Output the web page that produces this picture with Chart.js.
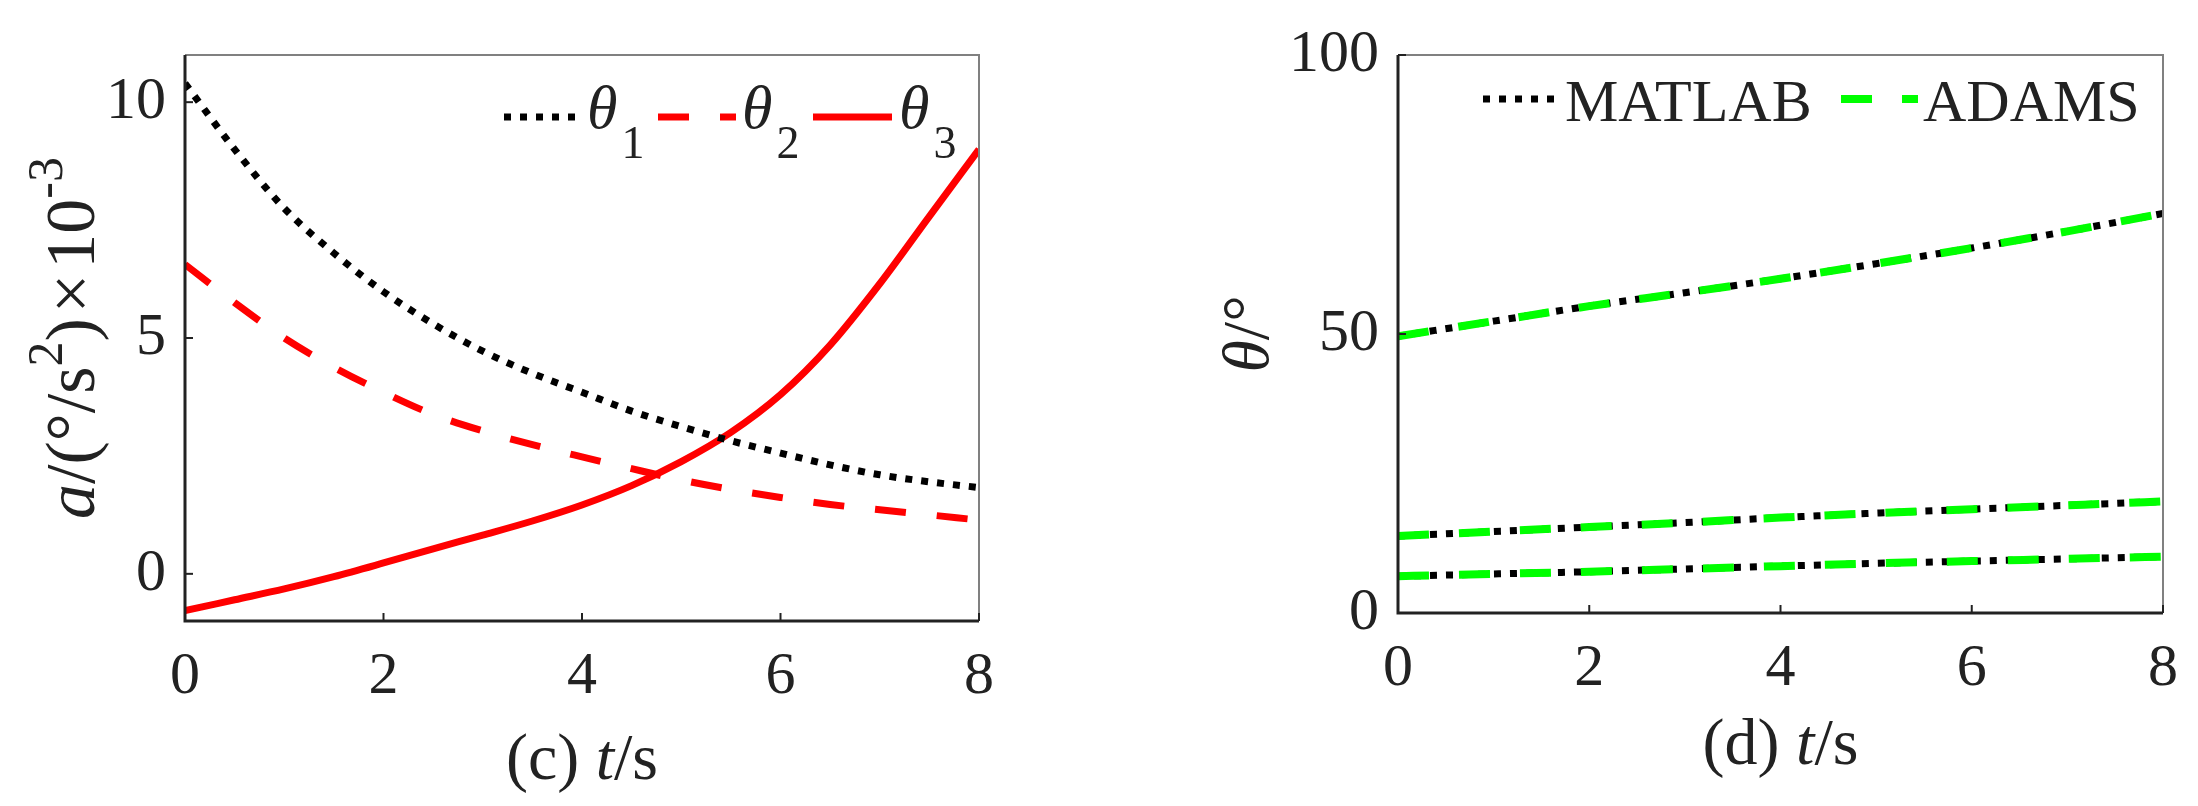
<!DOCTYPE html>
<html>
<head>
<meta charset="utf-8">
<script src="https://cdn.jsdelivr.net/npm/chart.js@4.4.1/dist/chart.umd.min.js"></script>
<style>
    html, body { margin: 0; padding: 0; background: #ffffff; }
    #wrap { position: relative; width: 2198px; height: 806px; }
    canvas { position: absolute; top: 0; }
    #accChart { left: 0; }
    #angleChart { left: 1100px; }
</style>
</head>
<body>
<div id="wrap">
    <canvas id="accChart" width="1100" height="806"></canvas>
    <canvas id="angleChart" width="1098" height="806"></canvas>
</div>
<script>
// ---- (c) angular acceleration, x10^-3 deg/s^2 ----
var timeC = [0, 0.5, 1, 1.5, 2, 2.5, 3, 3.5, 4, 4.5, 5, 5.5, 6, 6.5, 7, 7.5, 8];
var theta1Acc = [10.4, 9.0, 7.75, 6.8, 5.98, 5.3, 4.72, 4.25, 3.85, 3.45, 3.12, 2.82, 2.56, 2.31, 2.1, 1.95, 1.83];
var theta2Acc = [6.56, 5.75, 5.0, 4.38, 3.85, 3.38, 3.03, 2.74, 2.48, 2.23, 1.99, 1.79, 1.62, 1.47, 1.36, 1.25, 1.14];
var theta3Acc = [-0.78, -0.55, -0.32, -0.06, 0.23, 0.53, 0.82, 1.12, 1.46, 1.87, 2.38, 3.0, 3.8, 4.85, 6.15, 7.58, 9.0];
var xTicksC = [0, 2, 4, 6, 8];
var yTicksC = [0, 5, 10];

// ---- (d) joint angles, deg ----
var timeD = [0, 1, 2, 3, 4, 5, 6, 7, 8];
var matlabUpper = [49.6, 52.3, 55.0, 57.4, 59.9, 62.6, 65.4, 68.4, 71.6];
var matlabMiddle = [13.8, 14.6, 15.4, 16.2, 17.1, 17.9, 18.6, 19.3, 20.0];
var matlabLower = [6.6, 7.0, 7.4, 7.9, 8.4, 8.9, 9.3, 9.7, 10.1];
var adamsUpper = [49.6, 52.3, 55.0, 57.4, 59.9, 62.6, 65.4, 68.4, 71.6];
var adamsMiddle = [13.8, 14.6, 15.4, 16.2, 17.1, 17.9, 18.6, 19.3, 20.0];
var adamsLower = [6.6, 7.0, 7.4, 7.9, 8.4, 8.9, 9.3, 9.7, 10.1];
var xTicksD = [0, 2, 4, 6, 8];
var yTicksD = [0, 50, 100];

var SERIF = "'Liberation Serif', 'Times New Roman', serif";
var INK = "#222222";

function toPoints(xs, ys) {
    return xs.map(function (x, i) { return {x: x, y: ys[i]}; });
}

function runFont(run, size) {
    var px = Math.round(size * (run.scale || 1));
    return (run.italic ? "italic " : "") + px + "px " + SERIF;
}

// Draws a row of text runs (italic / sub / superscript) along the baseline y.
function drawRuns(ctx, runs, x, y, size, align) {
    var widths = runs.map(function (r) {
        ctx.font = runFont(r, size);
        return ctx.measureText(r.text).width + (r.dx || 0);
    });
    var total = widths.reduce(function (a, b) { return a + b; }, 0);
    var cx = align === "center" ? x - total / 2 : x;
    ctx.textBaseline = "alphabetic";
    ctx.textAlign = "left";
    runs.forEach(function (r, i) {
        ctx.font = runFont(r, size);
        ctx.fillText(r.text, cx + (r.dx || 0), y + (r.shift || 0));
        cx += widths[i];
    });
}

function strokeSample(ctx, x0, x1, y, color, width, dash) {
    ctx.save();
    ctx.strokeStyle = color;
    ctx.lineWidth = width;
    ctx.setLineDash(dash);
    ctx.beginPath();
    ctx.moveTo(x0, y);
    ctx.lineTo(x1, y);
    ctx.stroke();
    ctx.restore();
}

// Box round the plot plus short inward tick marks, MATLAB style.
var framePlugin = {
    id: "frame",
    afterDatasetsDraw: function (chart) {
        var ctx = chart.ctx;
        var a = chart.chartArea;
        var xs = chart.scales.x;
        var ys = chart.scales.y;
        ctx.save();
        ctx.strokeStyle = "#808080";
        ctx.lineWidth = 2;
        ctx.beginPath();
        ctx.moveTo(a.left, a.top);
        ctx.lineTo(a.right, a.top);
        ctx.lineTo(a.right, a.bottom);
        ctx.stroke();

        ctx.strokeStyle = INK;
        ctx.lineWidth = 2;
        xs.ticks.forEach(function (t) {
            var px = xs.getPixelForValue(t.value);
            ctx.beginPath();
            ctx.moveTo(px, a.bottom);
            ctx.lineTo(px, a.bottom - 8);
            ctx.stroke();
        });
        ys.ticks.forEach(function (t) {
            var py = ys.getPixelForValue(t.value);
            ctx.beginPath();
            ctx.moveTo(a.left, py);
            ctx.lineTo(a.left + 8, py);
            ctx.stroke();
        });

        ctx.lineWidth = 3;
        ctx.beginPath();
        ctx.moveTo(a.left, a.top);
        ctx.lineTo(a.left, a.bottom);
        ctx.lineTo(a.right, a.bottom);
        ctx.stroke();
        ctx.restore();
    }
};

// Axis titles and legend with italic symbols and subscripts.
// The spec is kept in a closure so Chart.js does not proxy it.
function makeLabelsPlugin(spec) {
    return {
        id: "richLabels",
        afterDraw: function (chart) {
            var ctx = chart.ctx;
            var a = chart.chartArea;
            ctx.save();
            ctx.fillStyle = INK;
            drawRuns(ctx, spec.xTitle, (a.left + a.right) / 2, spec.xTitleY, 66, "center");

            ctx.save();
            ctx.translate(spec.yTitleX, (a.top + a.bottom) / 2);
            ctx.rotate(-Math.PI / 2);
            drawRuns(ctx, spec.yTitle, 0, 0, spec.yTitleSize, "center");
            ctx.restore();

            spec.legend.forEach(function (item) {
                strokeSample(ctx, item.x0, item.x1, spec.legendY, item.color, item.width, item.dash);
                ctx.fillStyle = INK;
                drawRuns(ctx, item.label, item.textX, spec.legendBaseline, spec.legendSize, "left");
            });
            ctx.restore();
        }
    };
}

function tickOptions(pad) {
    return {
        color: INK,
        padding: pad,
        maxRotation: 0,
        font: {family: SERIF, size: 60}
    };
}

function buildScales(xTicks, yTicks, yMin, yMax, yWidth, xHeight) {
    return {
        x: {
            type: "linear",
            min: 0,
            max: 8,
            grid: {display: false, drawTicks: false},
            border: {display: false},
            ticks: tickOptions(20),
            afterBuildTicks: function (s) {
                s.ticks = xTicks.map(function (v) { return {value: v}; });
            },
            afterFit: function (s) { s.height = xHeight; }
        },
        y: {
            type: "linear",
            min: yMin,
            max: yMax,
            grid: {display: false, drawTicks: false},
            border: {display: false},
            ticks: tickOptions(19),
            afterBuildTicks: function (s) {
                s.ticks = yTicks.map(function (v) { return {value: v}; });
            },
            afterFit: function (s) { s.width = yWidth; }
        }
    };
}

function theta(n) {
    return [{text: "\u03b8", italic: true}, {text: String(n), scale: 0.74, shift: 30, dx: 4}];
}

function curve(label, xs, ys, color, width, dash) {
    return {
        label: label,
        data: toPoints(xs, ys),
        borderColor: color,
        borderWidth: width,
        borderDash: dash,
        pointRadius: 0,
        cubicInterpolationMode: "monotone"
    };
}

// ---- chart (c) ----
new Chart(document.getElementById("accChart").getContext("2d"), {
    type: "line",
    data: {
        datasets: [
            curve("theta1", timeC, theta1Acc, "#000000", 7, [7, 9]),
            curve("theta2", timeC, theta2Acc, "#ff0000", 7, [31, 31]),
            curve("theta3", timeC, theta3Acc, "#ff0000", 7, [])
        ]
    },
    options: {
        responsive: false,
        animation: false,
        layout: {padding: {top: 43, right: 121, left: 0, bottom: 0}},
        scales: buildScales(xTicksC, yTicksC, -1, 11, 185, 185),
        plugins: {legend: {display: false}, tooltip: {enabled: false}}
    },
    plugins: [framePlugin, makeLabelsPlugin({
        xTitle: [{text: "(c) "}, {text: "t", italic: true}, {text: "/s"}],
        xTitleY: 779,
        yTitleX: 94,
        yTitleSize: 70,
        yTitle: [
            {text: "a", italic: true},
            {text: "/(\u00b0/s"},
            {text: "2", scale: 0.72, shift: -32},
            {text: ")"},
            {text: "\u00d7", dx: 5},
            {text: "10", dx: 5},
            {text: "-3", scale: 0.72, shift: -32}
        ],
        legendY: 117,
        legendBaseline: 128,
        legendSize: 62,
        legend: [
            {x0: 504, x1: 578, color: "#000000", width: 7, dash: [7, 9], textX: 587, label: theta(1)},
            {x0: 658, x1: 736, color: "#ff0000", width: 7, dash: [31, 31], textX: 742, label: theta(2)},
            {x0: 813, x1: 892, color: "#ff0000", width: 7, dash: [], textX: 899, label: theta(3)}
        ]
    })]
});

// ---- chart (d) ----
function angleSet(values, source) {
    var matlab = source === "MATLAB";
    var ds = curve(source, timeD, values,
        matlab ? "#000000" : "#00ff00",
        matlab ? 7 : 8,
        matlab ? [7, 9] : [31, 30]);
    ds.order = matlab ? 1 : 0;
    return ds;
}

new Chart(document.getElementById("angleChart").getContext("2d"), {
    type: "line",
    data: {
        datasets: [
            angleSet(matlabUpper, "MATLAB"),
            angleSet(matlabMiddle, "MATLAB"),
            angleSet(matlabLower, "MATLAB"),
            angleSet(adamsUpper, "ADAMS"),
            angleSet(adamsMiddle, "ADAMS"),
            angleSet(adamsLower, "ADAMS")
        ]
    },
    options: {
        responsive: false,
        animation: false,
        layout: {padding: {top: 39, right: 25, left: 0, bottom: 0}},
        scales: buildScales(xTicksD, yTicksD, 0, 100, 298, 193),
        plugins: {legend: {display: false}, tooltip: {enabled: false}}
    },
    plugins: [framePlugin, makeLabelsPlugin({
        xTitle: [{text: "(d) "}, {text: "t", italic: true}, {text: "/s"}],
        xTitleY: 764,
        yTitleX: 168,
        yTitleSize: 66,
        yTitle: [{text: "\u03b8", italic: true}, {text: "/\u00b0"}],
        legendY: 99,
        legendBaseline: 121,
        legendSize: 60,
        legend: [
            {x0: 383, x1: 455, color: "#000000", width: 7, dash: [7, 9], textX: 465, label: [{text: "MATLAB"}]},
            {x0: 741, x1: 818, color: "#00ff00", width: 8, dash: [31, 30], textX: 823, label: [{text: "ADAMS"}]}
        ]
    })]
});
</script>
</body>
</html>
